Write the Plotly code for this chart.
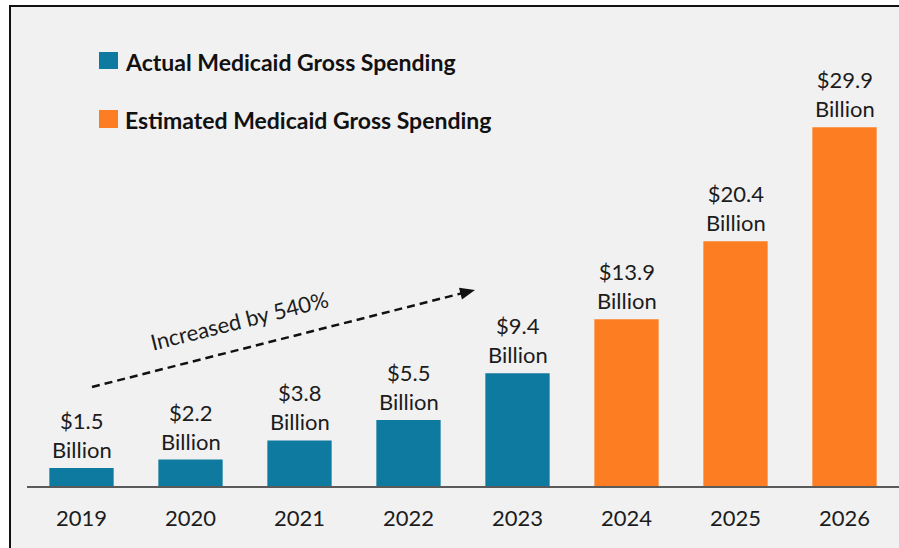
import plotly.graph_objects as go

# Medicaid gross spending, billions of dollars
years = ["2019", "2020", "2021", "2022", "2023", "2024", "2025", "2026"]
actual_years = years[:5]
actual_values = [1.5, 2.2, 3.8, 5.5, 9.4]
estimated_years = years[5:]
estimated_values = [13.9, 20.4, 29.9]

actual_name = "Actual Medicaid Gross Spending"
estimated_name = "Estimated Medicaid Gross Spending"
growth_label = "Increased by 540%"

BLUE = "#0f7aa0"
ORANGE = "#fd7e22"
BG = "#f1f1f1"
INK = "#1c1c1c"
FONT = "Lato"

W, H = 899, 548
L, R, T, B = 27, 0, 20, 62
PW, PH = W - L - R, H - T - B


def px(x):
    """pixel x -> paper x"""
    return (x - L) / PW


def py(y):
    """pixel y -> paper y"""
    return (H - B - y) / PH


fig = go.Figure()
fig.add_trace(go.Bar(x=actual_years, y=actual_values, marker_color=BLUE,
                     marker_line_width=0, name=actual_name))
fig.add_trace(go.Bar(x=estimated_years, y=estimated_values, marker_color=ORANGE,
                     marker_line_width=0, name=estimated_name))

annotations = []
for xs, vs in ((actual_years, actual_values), (estimated_years, estimated_values)):
    for x, v in zip(xs, vs):
        annotations.append(dict(
            x=years.index(x), y=v, xref="x", yref="y", text=f"${v}<br>Billion",
            showarrow=False, xanchor="center", yanchor="bottom", yshift=3,
            font=dict(family=FONT, size=22, color=INK)))

shapes = [
    # frame
    dict(type="rect", xref="paper", yref="paper", x0=px(10), x1=px(930),
         y0=py(6), y1=py(600), fillcolor=BG, line=dict(color="#111111", width=2),
         layer="below"),
    # legend keys
    dict(type="rect", xref="paper", yref="paper", x0=px(99), x1=px(118),
         y0=py(52), y1=py(69), fillcolor=BLUE, line_width=0),
    dict(type="rect", xref="paper", yref="paper", x0=px(99), x1=px(118),
         y0=py(110), y1=py(128), fillcolor=ORANGE, line_width=0),
]
for text, yc in ((actual_name, 62), (estimated_name, 120)):
    annotations.append(dict(
        x=px(123), y=py(yc), xref="paper", yref="paper", text=f"<b>{text}</b>",
        showarrow=False, xanchor="left", yanchor="middle",
        font=dict(family=FONT, size=23, color="#111111")))

# dashed growth arrow
x0, y0, x1, y1 = 92, 387, 463, 293
shapes.append(dict(type="line", xref="paper", yref="paper",
                   x0=px(x0), y0=py(y0), x1=px(x1), y1=py(y1),
                   line=dict(color="#111111", width=2.5, dash="8px,5px")))
tip = (475, 290)
dx, dy = tip[0] - x0, tip[1] - y0
n = (dx * dx + dy * dy) ** 0.5
ux, uy = dx / n, dy / n
hl, hw = 15, 6
bx, by = tip[0] - ux * hl, tip[1] - uy * hl
p1 = (bx - uy * hw, by + ux * hw)
p2 = (bx + uy * hw, by - ux * hw)
shapes.append(dict(type="path", xref="paper", yref="paper",
                   path=f"M {px(tip[0])} {py(tip[1])} L {px(p1[0])} {py(p1[1])} "
                        f"L {px(p2[0])} {py(p2[1])} Z",
                   fillcolor="#111111", line_width=0))
annotations.append(dict(
    x=px(239), y=py(320), xref="paper", yref="paper", text=growth_label,
    showarrow=False, textangle=-14, xanchor="center", yanchor="middle",
    font=dict(family=FONT, size=22, color=INK)))

fig.update_layout(
    width=W, height=H,
    margin=dict(l=L, r=R, t=T, b=B, pad=0),
    paper_bgcolor="white", plot_bgcolor="rgba(0,0,0,0)",
    barmode="overlay", bargap=0.41, showlegend=False,
    shapes=shapes, annotations=annotations,
    xaxis=dict(type="category", categoryorder="array", categoryarray=years,
               range=[-0.5, len(years) - 0.5], autorange=False,
               showline=True, linecolor="#5a5a5a", linewidth=1.5,
               ticks="", showgrid=False, ticklabelstandoff=12,
               tickfont=dict(family=FONT, size=22, color=INK)),
    yaxis=dict(range=[0, PH / 12.0], autorange=False, visible=False,
               showgrid=False, zeroline=False),
)

fig.write_html("out.html")
